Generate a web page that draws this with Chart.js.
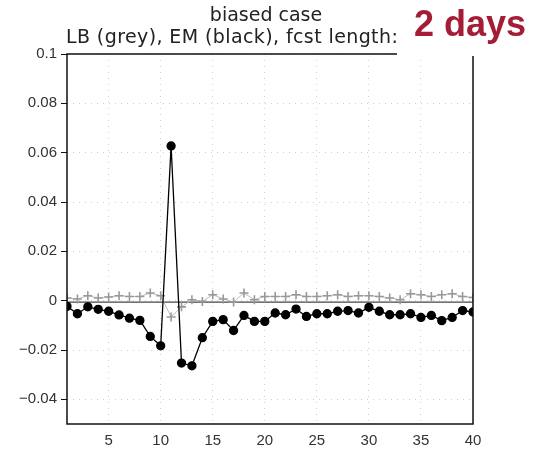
<!DOCTYPE html>
<html lang="en">
<head>
    <meta charset="UTF-8">
    <title>biased case</title>
    <script src="https://cdn.jsdelivr.net/npm/chart.js"></script>
</head>
<style>
    body {
        margin: 0;
        background-color: #ffffff;
    }

    .wrap {
        position: relative;
        width: 534px;
        height: 449px;
    }
</style>
<body>

<div class="wrap">
    <canvas id="lineChart" width="534" height="449"></canvas>
</div>

<script>
    // forecast lead (x axis)
    const lead = [1, 2, 3, 4, 5, 6, 7, 8, 9, 10, 11, 12, 13, 14, 15, 16, 17, 18, 19, 20,
        21, 22, 23, 24, 25, 26, 27, 28, 29, 30, 31, 32, 33, 34, 35, 36, 37, 38, 39, 40];

    // EM (black)
    const emValues = [-0.0023, -0.0053, -0.0025, -0.0035, -0.0043, -0.0058, -0.0071, -0.008, -0.0145, -0.0183,
        0.0627, -0.0253, -0.0264, -0.015, -0.0084, -0.0077, -0.0121, -0.006, -0.0084, -0.0084,
        -0.005, -0.0057, -0.0034, -0.0064, -0.0053, -0.0053, -0.0043, -0.004, -0.005, -0.0027,
        -0.0043, -0.0057, -0.0057, -0.0053, -0.0068, -0.006, -0.0081, -0.0068, -0.004, -0.0046];

    // LB (grey)
    const lbValues = [0.0011, 0.0007, 0.002, 0.0011, 0.0015, 0.002, 0.0017, 0.0017, 0.0031, 0.002,
        -0.0066, -0.0025, 0.0004, -0.0003, 0.0024, 0.0007, -0.0005, 0.0031, 0.0004, 0.0017,
        0.0017, 0.0017, 0.0024, 0.0017, 0.0017, 0.002, 0.0024, 0.0017, 0.002, 0.002,
        0.0017, 0.0011, 0.0004, 0.0028, 0.0024, 0.0017, 0.0024, 0.0028, 0.0017, 0.0013];

    const xTicks = [5, 10, 15, 20, 25, 30, 35, 40];
    const yTicks = [-0.04, -0.02, 0, 0.02, 0.04, 0.06, 0.08, 0.1];

    const titleLines = ['biased case', 'LB (grey), EM (black), fcst length: 2 days'];
    const stamp = '2 days';

    // frame, zero line, title and the red stamp
    const decor = {
        id: 'decor',
        beforeDatasetsDraw(chart) {
            const {ctx, chartArea, scales} = chart;
            const y0 = scales.y.getPixelForValue(0);
            ctx.save();
            ctx.strokeStyle = '#444';
            ctx.lineWidth = 1.2;
            ctx.beginPath();
            ctx.moveTo(chartArea.left, y0 + 1.5);
            ctx.lineTo(chartArea.right, y0 + 1.5);
            ctx.stroke();
            ctx.restore();
        },
        afterDraw(chart) {
            const {ctx, chartArea} = chart;
            const mid = (chartArea.left + chartArea.right) / 2;
            ctx.save();
            ctx.strokeStyle = '#111';
            ctx.lineWidth = 1.5;
            ctx.strokeRect(chartArea.left, chartArea.top, chartArea.right - chartArea.left, chartArea.bottom - chartArea.top);

            ctx.fillStyle = '#222';
            ctx.font = '19px "DejaVu Sans"';
            ctx.textBaseline = 'alphabetic';
            ctx.textAlign = 'center';
            ctx.fillText(titleLines[0], mid - 4, 21);
            ctx.textAlign = 'left';
            ctx.letterSpacing = '0.4px';
            ctx.fillText(titleLines[1], chartArea.left - 1, 43);
            ctx.letterSpacing = '0px';

            ctx.fillStyle = '#fff';
            ctx.fillRect(397, 0, 137, 56);

            ctx.fillStyle = '#a51c36';
            ctx.font = 'bold 36px "Liberation Sans"';
            ctx.fillText(stamp, 414, 36);
            ctx.restore();
        }
    };

    const ctx = document.getElementById('lineChart').getContext('2d');
    const lineChart = new Chart(ctx, {
        type: 'line',
        data: {
            datasets: [{
                label: 'EM',
                data: lead.map((d, i) => ({x: d, y: emValues[i]})),
                borderColor: '#000',
                borderWidth: 1.3,
                pointRadius: 4,
                pointBackgroundColor: '#000',
                pointBorderColor: '#000',
                tension: 0
            }, {
                label: 'LB',
                data: lead.map((d, i) => ({x: d, y: lbValues[i]})),
                borderColor: '#bdbdbd',
                borderWidth: 1,
                pointStyle: 'cross',
                pointRadius: 4.5,
                pointBorderColor: '#999',
                pointBorderWidth: 1.6,
                tension: 0
            }]
        },
        options: {
            responsive: false,
            animation: false,
            layout: {padding: {top: 54, right: 61, left: 0, bottom: 0}},
            plugins: {
                legend: {display: false},
                title: {display: false},
                tooltip: {enabled: false}
            },
            scales: {
                x: {
                    type: 'linear',
                    min: 1,
                    max: 40,
                    afterBuildTicks: s => { s.ticks = xTicks.map(v => ({value: v})); },
                    afterFit: s => { s.height = 25; },
                    grid: {color: '#d0d0d0', drawTicks: false, lineWidth: 1},
                    border: {display: false, dash: [1, 5]},
                    ticks: {
                        color: '#333',
                        padding: 8,
                        maxRotation: 0,
                        font: {family: 'Liberation Sans', size: 15}
                    }
                },
                y: {
                    min: -0.05,
                    max: 0.1,
                    afterBuildTicks: s => { s.ticks = yTicks.map(v => ({value: v})); },
                    afterFit: s => { s.width = 67; },
                    grid: {color: '#d0d0d0', tickColor: '#111', tickLength: 6, lineWidth: 1},
                    border: {display: false, dash: [1, 5]},
                    ticks: {
                        color: '#333',
                        padding: 4,
                        font: {family: 'Liberation Sans', size: 15},
                        callback: v => String(Number(v.toFixed(2))).replace('-', '\u2212')
                    }
                }
            }
        },
        plugins: [decor]
    });
</script>
</body>
</html>
